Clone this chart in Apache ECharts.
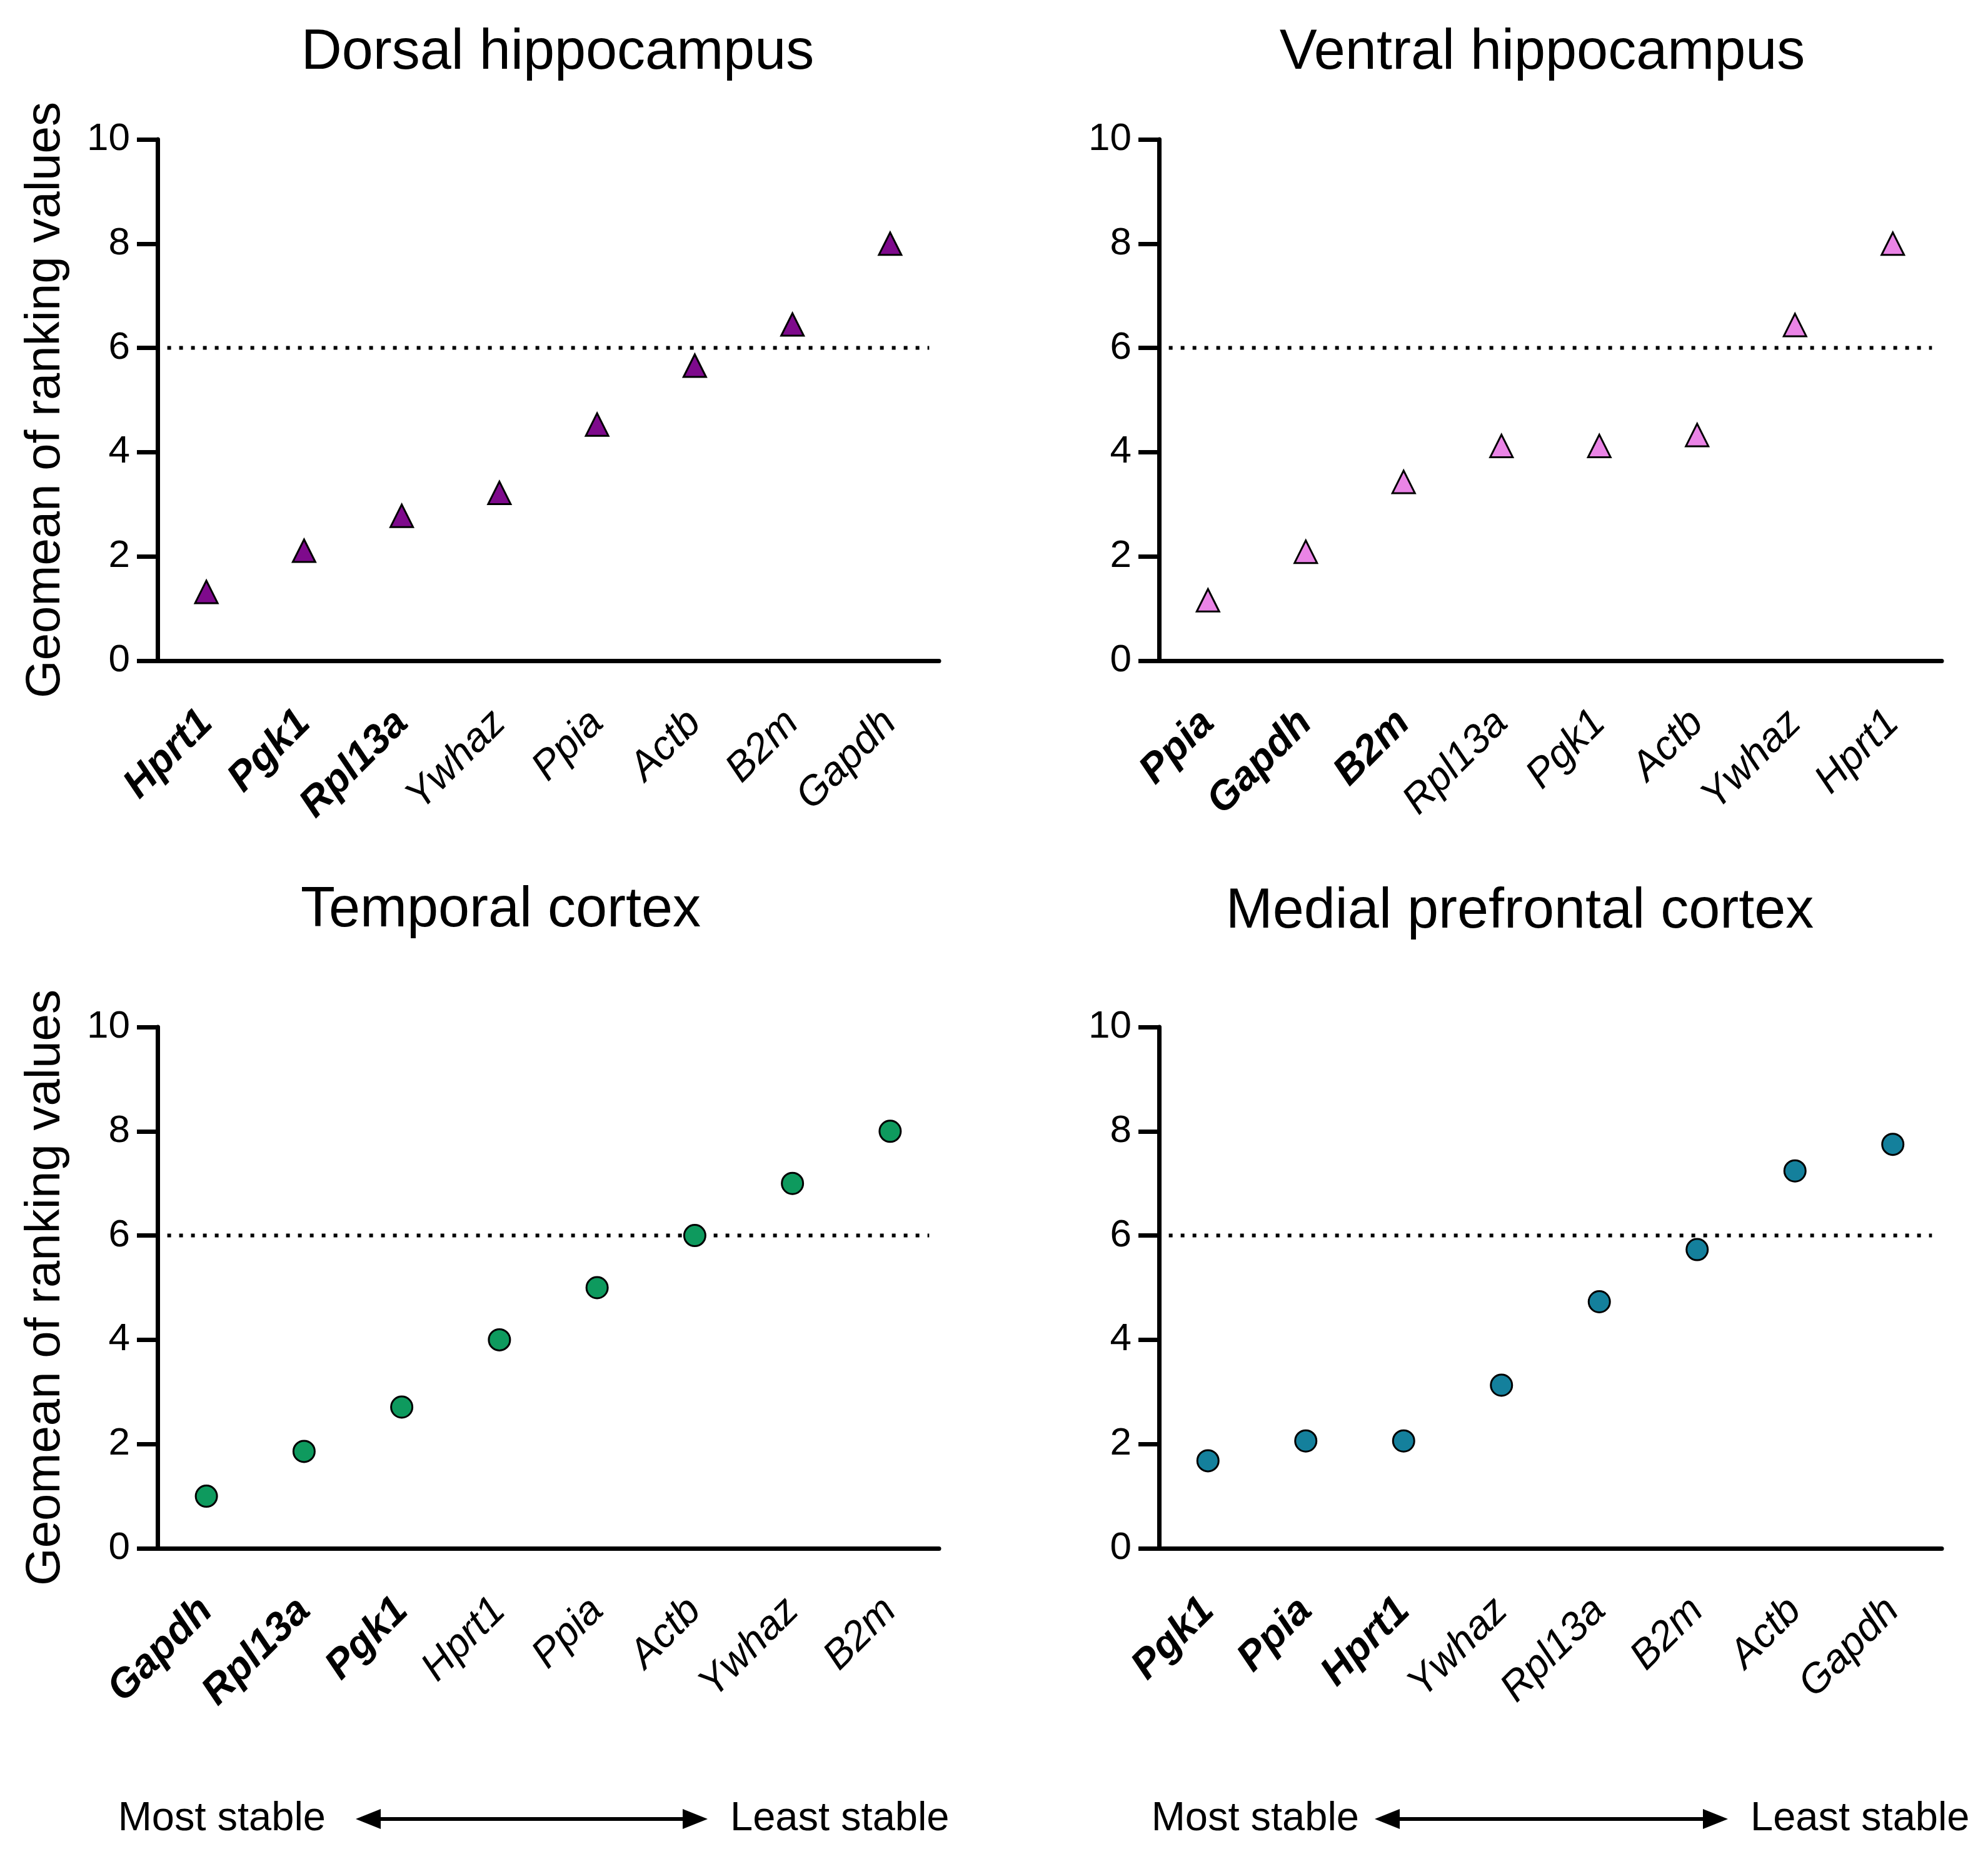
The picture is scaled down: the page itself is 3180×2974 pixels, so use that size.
<!DOCTYPE html>
<html>
<head>
<meta charset="utf-8">
<script src="https://cdn.jsdelivr.net/npm/echarts@6/dist/echarts.min.js"></script>
<style>
html,body{margin:0;padding:0;background:#fff;}
#chart{width:3180px;height:2974px;}
</style>
</head>
<body>
<div id="chart"></div>
<script>
// ---- data ----
const panelTitles = ['Dorsal hippocampus', 'Ventral hippocampus', 'Temporal cortex', 'Medial prefrontal cortex'];
const dorsalGenes = ['Hprt1', 'Pgk1', 'Rpl13a', 'Ywhaz', 'Ppia', 'Actb', 'B2m', 'Gapdh'];
const dorsalValues = [1.32, 2.11, 2.78, 3.22, 4.53, 5.66, 6.45, 8.0];
const ventralGenes = ['Ppia', 'Gapdh', 'B2m', 'Rpl13a', 'Pgk1', 'Actb', 'Ywhaz', 'Hprt1'];
const ventralValues = [1.16, 2.09, 3.43, 4.12, 4.12, 4.33, 6.44, 8.0];
const temporalGenes = ['Gapdh', 'Rpl13a', 'Pgk1', 'Hprt1', 'Ppia', 'Actb', 'Ywhaz', 'B2m'];
const temporalValues = [1.0, 1.86, 2.71, 4.0, 5.0, 6.0, 7.0, 8.0];
const medialGenes = ['Pgk1', 'Ppia', 'Hprt1', 'Ywhaz', 'Rpl13a', 'B2m', 'Actb', 'Gapdh'];
const medialValues = [1.68, 2.06, 2.06, 3.13, 4.73, 5.73, 7.24, 7.75];
const yMin = 0, yMax = 10, yStep = 2;
const cutoffValue = 6;
const boldCount = 3;
const yAxisTitle = 'Geomean of ranking values';
const leftNote = 'Most stable';
const rightNote = 'Least stable';

// ---- layout / style ----
const FONT = '"Liberation Sans", Arial, Helvetica, sans-serif';
const panels = [
  {genes: dorsalGenes, values: dorsalValues, symbol: 'triangle', size: [36, 36], color: '#7E0A8C',
   grid: {left: 252, top: 223, width: 1250, height: 834}, title: [892, 85], yName: true},
  {genes: ventralGenes, values: ventralValues, symbol: 'triangle', size: [36, 36], color: '#EA84E6',
   grid: {left: 1854, top: 223, width: 1252, height: 834}, title: [2467, 85], yName: false},
  {genes: temporalGenes, values: temporalValues, symbol: 'circle', size: 34, color: '#0E9A5E',
   grid: {left: 252, top: 1643, width: 1250, height: 834}, title: [801, 1457], yName: true},
  {genes: medialGenes, values: medialValues, symbol: 'circle', size: 34, color: '#14809C',
   grid: {left: 1854, top: 1643, width: 1252, height: 834}, title: [2431, 1459], yName: false}
];

const grids = [], xAxes = [], yAxes = [], series = [], graphics = [];
panels.forEach((p, k) => {
  grids.push(Object.assign({containLabel: false}, p.grid));
  xAxes.push({
    type: 'category', gridIndex: k, data: p.genes, boundaryGap: true,
    axisLine: {onZero: false, lineStyle: {color: '#000', width: 7}},
    axisTick: {alignWithLabel: true, length: 33, lineStyle: {color: '#000', width: 7}},
    axisLabel: {
      rotate: 45, margin: 90, color: '#000', fontFamily: FONT, interval: 0,
      formatter: (v) => {
        const i = p.genes.indexOf(v);
        return i < boldCount ? '{b|' + v + '}' : '{n|' + v + '}';
      },
      rich: {
        b: {fontSize: 65, fontStyle: 'italic', fontWeight: 'bold', fontFamily: FONT, color: '#000'},
        n: {fontSize: 65, fontStyle: 'italic', fontWeight: 'normal', fontFamily: FONT, color: '#000'}
      }
    },
    splitLine: {show: false}
  });
  xAxes.push({type: 'value', gridIndex: k, min: -0.5, max: 7.5, show: false,
    axisLine: {onZero: false}});
  yAxes.push({
    type: 'value', gridIndex: k, min: yMin, max: yMax, interval: yStep,
    name: p.yName ? yAxisTitle : '', nameLocation: 'middle', nameGap: 140,
    nameTextStyle: {fontSize: 78, color: '#000', fontFamily: FONT},
    axisLine: {show: true, onZero: false, lineStyle: {color: '#000', width: 7}},
    axisTick: {show: true, length: 33, lineStyle: {color: '#000', width: 7}},
    axisLabel: {fontSize: 62, color: '#000', margin: 44, fontFamily: FONT},
    splitLine: {show: false}
  });
  series.push({
    type: 'line', xAxisIndex: 2 * k + 1, yAxisIndex: k,
    data: [[-0.4, cutoffValue], [7.4, cutoffValue]],
    symbol: 'none', silent: true, z: 1,
    lineStyle: {color: '#000', width: 6, type: [6, 13]}
  });
  series.push({
    type: 'scatter', xAxisIndex: 2 * k, yAxisIndex: k,
    data: p.values, symbol: p.symbol, symbolSize: p.size, z: 5,
    itemStyle: {color: p.color, borderColor: '#000', borderWidth: 3, opacity: 1}
  });
  graphics.push({
    type: 'text', x: p.title[0], y: p.title[1],
    style: {text: panelTitles[k], fontSize: 90, fontFamily: FONT, fill: '#000',
            textAlign: 'center', textVerticalAlign: 'middle'}
  });
});

// bottom annotations (most stable <-> least stable)
const notes = [
  {textRight: 521, arrowL: 569, arrowR: 1132, textLeft: 1168},
  {textRight: 2174, arrowL: 2199, arrowR: 2764, textLeft: 2800}
];
const noteY = 2910;
notes.forEach(n => {
  graphics.push({type: 'text', x: n.textRight, y: noteY,
    style: {text: leftNote, fontSize: 65, fontFamily: FONT, fill: '#000', textAlign: 'right', textVerticalAlign: 'middle'}});
  graphics.push({type: 'text', x: n.textLeft, y: noteY,
    style: {text: rightNote, fontSize: 65, fontFamily: FONT, fill: '#000', textAlign: 'left', textVerticalAlign: 'middle'}});
  graphics.push({type: 'line', shape: {x1: n.arrowL + 30, y1: noteY, x2: n.arrowR - 30, y2: noteY},
    style: {stroke: '#000', lineWidth: 6}});
  graphics.push({type: 'polygon', shape: {points: [[n.arrowL, noteY], [n.arrowL + 40, noteY - 16], [n.arrowL + 40, noteY + 16]]},
    style: {fill: '#000'}});
  graphics.push({type: 'polygon', shape: {points: [[n.arrowR, noteY], [n.arrowR - 40, noteY - 16], [n.arrowR - 40, noteY + 16]]},
    style: {fill: '#000'}});
});

const chart = echarts.init(document.getElementById('chart'), null, {renderer: 'canvas', devicePixelRatio: 1});
chart.setOption({
  backgroundColor: '#fff',
  animation: false,
  textStyle: {fontFamily: FONT},
  grid: grids,
  xAxis: xAxes,
  yAxis: yAxes,
  series: series,
  graphic: graphics
});
</script>
</body>
</html>
